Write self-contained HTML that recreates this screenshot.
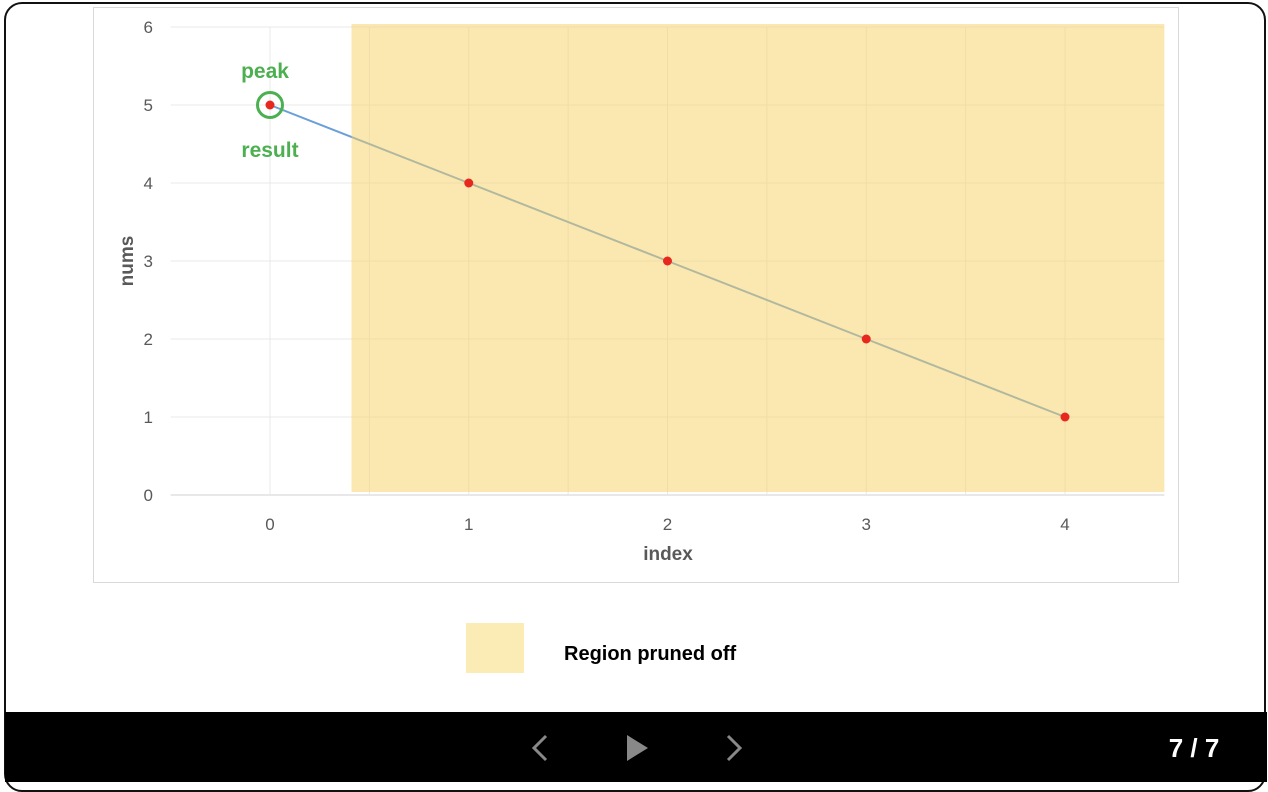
<!DOCTYPE html>
<html><head><meta charset="utf-8"><style>
html,body{margin:0;padding:0;background:#fff;}
body{width:1268px;height:782px;position:relative;overflow:hidden;font-family:"Liberation Sans",sans-serif;}
</style></head><body>
<div style="position:absolute;left:4px;top:2px;width:1262px;height:790px;border:2px solid #111;border-radius:18px;box-sizing:border-box;"></div>
<svg id="chart" width="1268" height="782" style="position:absolute;left:0;top:0">
<rect x="93.5" y="7.5" width="1085" height="575" fill="#fff" stroke="#d9d9d9"/>
<g id="grid"></g><g id="series"></g><g id="region"></g><g id="points"></g><g id="labels"></g>
<text x="668" y="560" text-anchor="middle" font-size="19" font-weight="bold" fill="#595959">index</text>
<text transform="translate(133,261) rotate(-90)" text-anchor="middle" font-size="19" font-weight="bold" fill="#595959">nums</text>
<text x="265" y="78" text-anchor="middle" font-size="21" font-weight="bold" fill="#4caf50">peak</text>
<text x="270" y="157" text-anchor="middle" font-size="21" font-weight="bold" fill="#4caf50">result</text>
<rect x="466" y="623" width="58" height="50" fill="#fbebb5"/>
<text x="564" y="660" font-size="20" font-weight="bold" fill="#000">Region pruned off</text>
<rect x="5" y="712" width="1262" height="70" fill="#000"/>
<path d="M546,736 L534,748 L546,760" stroke="#888" stroke-width="3" fill="none"/>
<path d="M627,735 L648,748 L627,761 Z" fill="#888"/>
<path d="M728,736 L740,748 L728,760" stroke="#888" stroke-width="3" fill="none"/>
<text x="1194" y="757" text-anchor="middle" font-size="26" font-weight="bold" fill="#fff">7 / 7</text>
</svg>
<script>
const xCats=[0,1,2,3,4];
const nums=[5,4,3,2,1];
const yTicks=[0,1,2,3,4,5,6];
const prunedStart=0.41, prunedEnd=4.5, prunedTop=6;
const peakIndex=0;
const X=v=>270+(v)*198.75;
const Y=v=>495-v*78;
const NS="http://www.w3.org/2000/svg";
function mk(p,t,a){const e=document.createElementNS(NS,t);for(const k in a)e.setAttribute(k,a[k]);document.getElementById(p).appendChild(e);return e;}
yTicks.forEach(t=>{
 const l=mk('grid','line',{x1:X(-0.5),x2:X(4.5),y1:Y(t),y2:Y(t),stroke:t===0?'#d0d0d0':'#e8e8e8'});
 
 
 const tx=mk('labels','text',{x:153,y:Y(t)+6,'text-anchor':'end','font-size':17,fill:'#595959'});tx.textContent=t;
 
 
});
xCats.forEach(c=>{
 const l=mk('grid','line',{x1:X(c),x2:X(c),y1:Y(6),y2:Y(0),stroke:'#e8e8e8'});
 
 
 const tx=mk('labels','text',{x:X(c),y:530,'text-anchor':'middle','font-size':17,fill:'#595959'});tx.textContent=c;
 
 
});
[0.5,1.5,2.5,3.5].forEach(c=>{const l=mk('grid','line',{x1:X(c),x2:X(c),y1:Y(6),y2:Y(0),stroke:'#e8e8e8'});
 
 });
const pl=mk('series','polyline',{points:xCats.map((c,i)=>X(c)+','+Y(nums[i])).join(' '),fill:'none',stroke:'#6a9fd8','stroke-width':2});


const rg=mk('region','rect',{x:X(prunedStart),y:Y(prunedTop)-3,width:X(prunedEnd)-X(prunedStart),height:Y(0)-Y(prunedTop),fill:'#f7d264','fill-opacity':0.5});


xCats.forEach((c,i)=>{const p=mk('points','circle',{cx:X(c),cy:Y(nums[i]),r:4.5,fill:'#e8281e'});
 
 });
const ring=mk('points','circle',{cx:X(peakIndex),cy:Y(nums[peakIndex]),r:12.5,fill:'none',stroke:'#4caf50','stroke-width':3});


</script>
</body></html>
